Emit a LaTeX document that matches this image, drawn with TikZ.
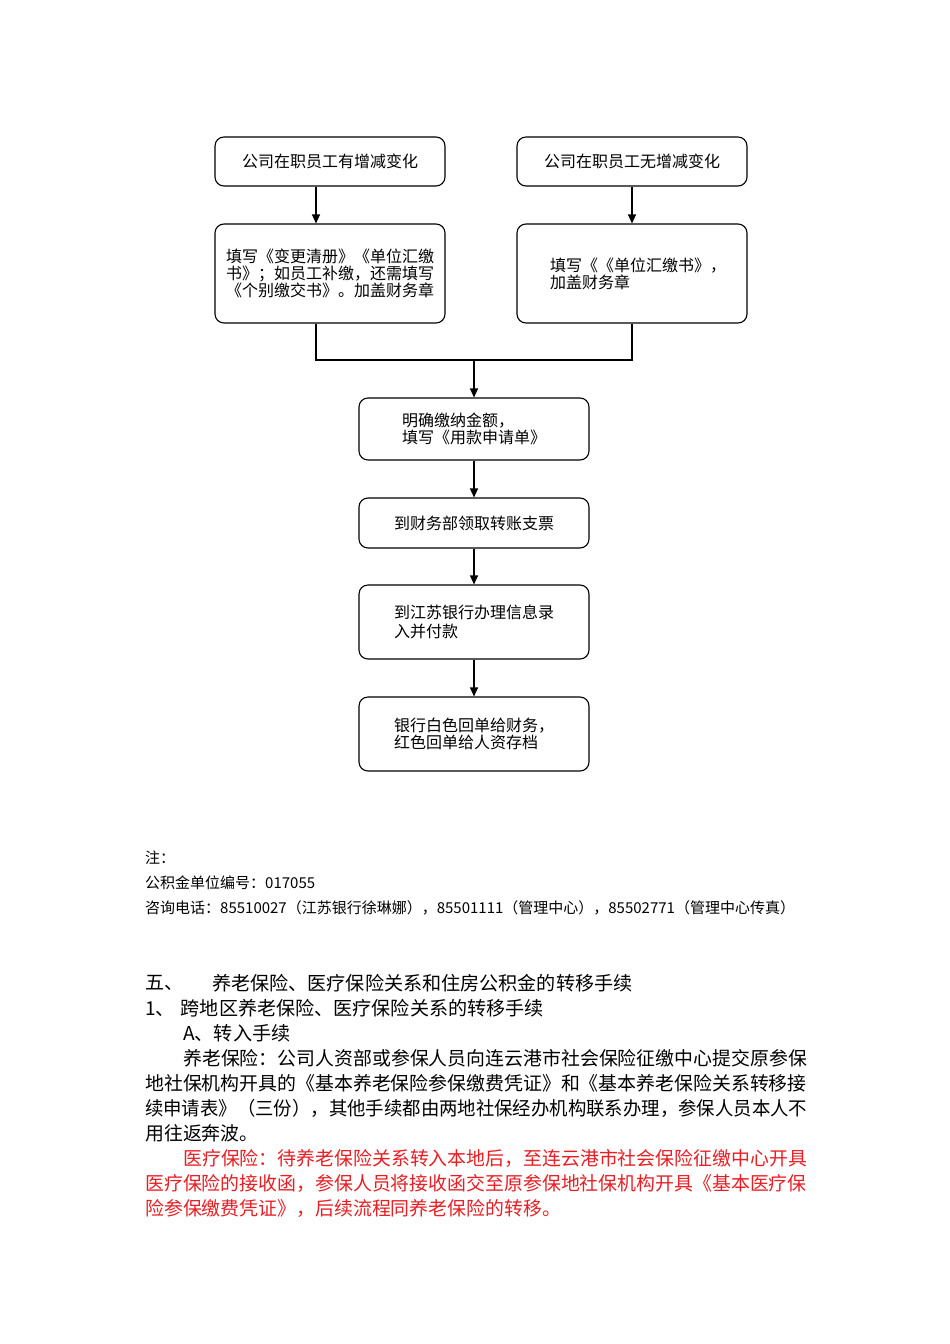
\documentclass[tikz,border=0pt]{standalone}
\usepackage{fontspec}
\newfontfamily\cjk{Noto Sans CJK SC}
\usepackage{tikz}
\usetikzlibrary{arrows.meta}
\definecolor{hongse}{RGB}{232,30,36}

\begin{document}
\begin{tikzpicture}[x=1pt, y=-1pt,
        every node/.style={font=\cjk},
        kuang/.style={draw=black, line width=1.1pt, rounded corners=9pt,
                      minimum width=230pt, align=left, inner sep=0pt,
                      font=\cjk\fontsize{16}{17}\selectfont},
        jiantou/.style={draw=black, line width=1.1pt,
                        -{Triangle[length=9pt, width=8pt]}},
        lianxian/.style={draw=black, line width=1.1pt},
        zhu/.style={anchor=west, inner sep=0pt, font=\cjk\fontsize{15}{17}\selectfont},
        biaoti/.style={anchor=west, inner sep=0pt, font=\cjk\fontsize{19.1}{22}\selectfont},
        zhengwen/.style={anchor=west, inner sep=0pt, font=\cjk\fontsize{18.9}{22}\selectfont},
        hongzi/.style={zhengwen, text=hongse}
    ]
        \useasboundingbox[fill=white] (0,0) rectangle (950,1344);

        % Ablauf oben
        \node[kuang, minimum height=49pt] (you)  at (330,161.5) {公司在职员工有增减变化};
        \node[kuang, minimum height=49pt] (wu)   at (632,161.5) {公司在职员工无增减变化};
        \node[kuang, minimum height=99pt] (tian1) at (330,273.5)
            {填写《变更清册》《单位汇缴\\书》；如员工补缴，还需填写\\《个别缴交书》。加盖财务章};
        \node[kuang, minimum height=99pt] (tian2) at (632,273.5)
            {\hspace*{12pt}填写《《单位汇缴书》，\\\hspace*{12pt}加盖财务章};
        \node[kuang, minimum height=62pt] (mingque) at (474,429)
            {明确缴纳金额，\\填写《用款申请单》};
        \node[kuang, minimum height=50pt] (lingqu)  at (474,523) {到财务部领取转账支票};
        \node[kuang, minimum height=74pt,
              font=\cjk\fontsize{16}{19}\selectfont] (yinhang) at (474,622)
            {到江苏银行办理信息录\\入并付款};
        \node[kuang, minimum height=74pt] (huidan) at (474,734)
            {银行白色回单给财务，\\红色回单给人资存档};

        \coordinate (hui) at (474,360);

        \draw[jiantou] ([xshift=-14pt]you.south) -- ([xshift=-14pt]tian1.north);
        \draw[jiantou] (wu) -- (tian2);
        \draw[lianxian] ([xshift=-14pt]tian1.south) |- (hui);
        \draw[lianxian] (tian2.south) |- (hui);
        \draw[jiantou] (hui) -- (mingque);
        \draw[jiantou] (mingque) -- (lingqu);
        \draw[jiantou] (lingqu) -- (yinhang);
        \draw[jiantou] (yinhang) -- (huidan);

        % Anmerkungen
        \node[zhu] (zhu1) at (145,858) {注：};
        \node[zhu] (zhu2) at (145,883) {公积金单位编号：017055};
        \node[zhu] (zhu3) at (145,908)
            {咨询电话：85510027（江苏银行徐琳娜），85501111（管理中心），85502771（管理中心传真）};

        % Fliesstext
        \node[biaoti] (wu1) at (145,983) {五、};
        \node[biaoti] (wu2) at (212,983) {养老保险、医疗保险关系和住房公积金的转移手续};
        \node[biaoti] (yi)  at (145,1008) {1、\hspace{6pt}跨地区养老保险、医疗保险关系的转移手续};
        \node[biaoti] (a)   at (183,1033) {A、转入手续};
        \node[zhengwen] (h1) at (183,1058) {养老保险：公司人资部或参保人员向连云港市社会保险征缴中心提交原参保};
        \node[zhengwen] (h2) at (145,1083) {地社保机构开具的《基本养老保险参保缴费凭证》和《基本养老保险关系转移接};
        \node[zhengwen] (h3) at (145,1108)
            {\scalebox{0.973}[1]{续申请表》（三份），其他手续都由两地社保经办机构联系办理，参保人员本人不}};
        \node[zhengwen] (h4) at (145,1133) {用往返奔波。};
        \node[hongzi] (r1) at (183,1158) {医疗保险：待养老保险关系转入本地后，至连云港市社会保险征缴中心开具};
        \node[hongzi] (r2) at (145,1183) {医疗保险的接收函，参保人员将接收函交至原参保地社保机构开具《基本医疗保};
        \node[hongzi] (r3) at (145,1208) {险参保缴费凭证》，后续流程同养老保险的转移。};
    \end{tikzpicture}
\end{document}
